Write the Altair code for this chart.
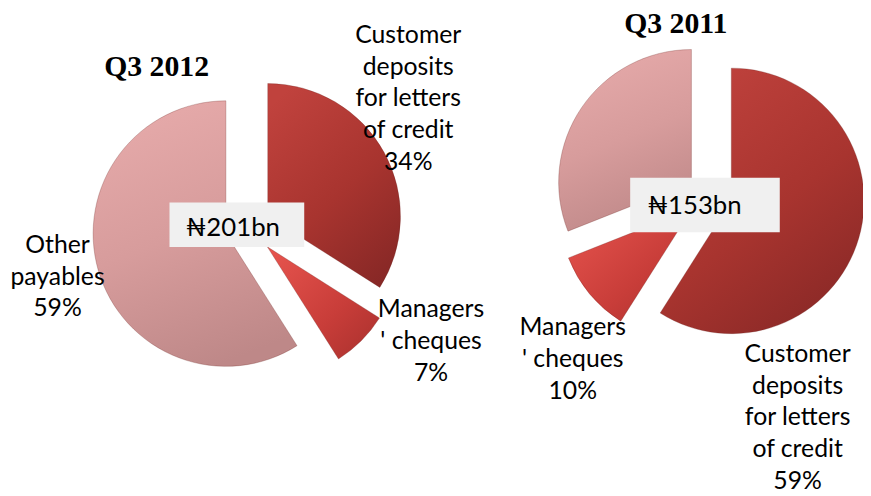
import math
import altair as alt
import pandas as pd

# ---------------- data ----------------
categories = ["Customer deposits for letters of credit", "Managers' cheques", "Other payables"]
label_lines = ["Customer\ndeposits\nfor letters\nof credit", "Managers\n' cheques", "Other\npayables"]
pct_2012 = [34, 7, 59]
pct_2011 = [59, 10, 31]
titles = ["Q3 2012", "Q3 2011"]
totals = ["₦201bn", "₦153bn"]

# ---------------- layout / style (pixels in chart coords) ----------------
W, H = 863, 488
RADIUS = 134
pies = [
    {"title": titles[0], "total": totals[0], "values": pct_2012,
     "center": (242, 219), "explode": [23, 28, 23],
     "title_pos": (150, 57),
     "box": (163, 194, 299, 239), "total_pos": (227, 220),
     "labels": {0: (404, 25), 1: (427, 302), 2: (50, 237)}},
    {"title": titles[1], "total": totals[1], "values": pct_2011,
     "center": (708, 186), "explode": [23, 23, 22],
     "title_pos": (674, 14),
     "box": (628, 169, 779, 224), "total_pos": (693, 198),
     "labels": {0: (797, 347), 1: (570, 320)}},
]

fills = [
    alt.Gradient(gradient="linear", x1=0.2, y1=0, x2=0.8, y2=1,
                 stops=[alt.GradientStop(color="#c0423d", offset=0),
                        alt.GradientStop(color="#a8342f", offset=0.55),
                        alt.GradientStop(color="#882826", offset=1)]),
    alt.Gradient(gradient="linear", x1=0, y1=0, x2=1, y2=1,
                 stops=[alt.GradientStop(color="#e8554f", offset=0),
                        alt.GradientStop(color="#c83d39", offset=0.6),
                        alt.GradientStop(color="#a8302d", offset=1)]),
    alt.Gradient(gradient="linear", x1=0.3, y1=0, x2=0.6, y2=1,
                 stops=[alt.GradientStop(color="#e6aaaa", offset=0),
                        alt.GradientStop(color="#d79c9c", offset=0.5),
                        alt.GradientStop(color="#be8888", offset=1)]),
]
LABEL_FONT = "Lato"
TITLE_FONT = "Liberation Serif"

layers = []
for p in pies:
    df = pd.DataFrame({"category": categories, "pct": p["values"], "order": [0, 1, 2]})
    cx, cy = p["center"]
    ex = p["explode"]
    explode_expr = f"datum.order == 0 ? {ex[0]} : (datum.order == 1 ? {ex[1]} : {ex[2]})"
    base = (
        alt.Chart(df)
        .transform_window(cum="sum(pct)", sort=[alt.SortField("order")], frame=[None, 0])
        .transform_calculate(start="datum.cum - datum.pct")
        .transform_calculate(mid="(datum.cum - datum.pct / 2) / 100 * 2 * PI")
        .transform_calculate(ex=explode_expr)
        .transform_calculate(cx=f"{cx} + datum.ex * sin(datum.mid)",
                             cy=f"{cy} - datum.ex * cos(datum.mid)")
    )
    for i in range(3):
        layers.append(
            base.transform_filter(f"datum.order == {i}")
            .mark_arc(radius=RADIUS, fill=fills[i], stroke="#6e2422", strokeOpacity=0.35, strokeWidth=0.8)
            .encode(
                theta=alt.Theta("start:Q", stack=None,
                                scale=alt.Scale(domain=[0, 100], range=[0, 2 * math.pi])),
                theta2=alt.Theta2("cum:Q"),
                x=alt.X("cx:Q", scale=None, axis=None),
                y=alt.Y("cy:Q", scale=None, axis=None),
            )
        )

    # slice labels
    lab_rows = []
    for i, (lx, ly) in p["labels"].items():
        lab_rows.append({"text": f"{label_lines[i]}\n{p['values'][i]}%", "lx": lx, "ly": ly})
    layers.append(
        alt.Chart(pd.DataFrame(lab_rows))
        .mark_text(font=LABEL_FONT, fontSize=25, lineBreak="\n", lineHeight=32,
                   align="center", baseline="middle", color="#000000")
        .encode(x=alt.X("lx:Q", scale=None, axis=None), y=alt.Y("ly:Q", scale=None, axis=None),
                text="text:N")
    )

    # total box
    x1, y1, x2, y2 = p["box"]
    box_df = pd.DataFrame({"x1": [x1], "y1": [y1], "x2": [x2], "y2": [y2],
                           "tx": [p["total_pos"][0]], "ty": [p["total_pos"][1]],
                           "total": [p["total"]]})
    layers.append(
        alt.Chart(box_df).mark_rect(fill="#f0f0f0")
        .encode(x=alt.X("x1:Q", scale=None, axis=None), x2="x2:Q",
                y=alt.Y("y1:Q", scale=None, axis=None), y2="y2:Q")
    )
    layers.append(
        alt.Chart(box_df).mark_text(font=LABEL_FONT, fontSize=26, align="center",
                                    baseline="middle", color="#000000")
        .encode(x=alt.X("tx:Q", scale=None, axis=None), y=alt.Y("ty:Q", scale=None, axis=None),
                text="total:N")
    )

    # title
    t_df = pd.DataFrame({"t": [p["title"]], "x": [p["title_pos"][0]], "y": [p["title_pos"][1]]})
    layers.append(
        alt.Chart(t_df).mark_text(font=TITLE_FONT, fontSize=30, fontWeight="bold",
                                  align="center", baseline="middle", color="#000000")
        .encode(x=alt.X("x:Q", scale=None, axis=None), y=alt.Y("y:Q", scale=None, axis=None),
                text="t:N")
    )

chart = (
    alt.layer(*layers)
    .properties(width=W, height=H, padding=0, autosize="none", background="white")
    .configure_view(stroke=None)
)

chart.save("out.html", embed_options={"renderer": "svg", "actions": False})
